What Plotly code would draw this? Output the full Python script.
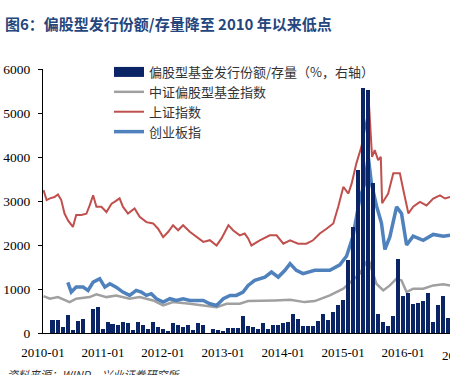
import pandas as pd
import plotly.graph_objects as go

# ---- data ----
bar_months = pd.date_range("2010-01-01", periods=82, freq="MS")
bar_values = [0, 0, 300, 300, 136, 415, 75, 280, 325, 0, 545, 585,
              100, 250, 200, 175, 250, 220, 75, 250, 175, 85, 250, 145,
              85, 50, 220, 175, 145, 175, 70, 220, 190, 0, 85, 60,
              40, 105, 105, 105, 380, 167, 130, 100, 220, 100, 190, 175,
              220, 258, 440, 325, 170, 150, 150, 265, 432, 303, 477, 630,
              740, 1650, 2400, 3700, 5570, 5530, 3400, 440, 250, 150, 380, 1680,
              834, 900, 665, 680, 720, 910, 250, 630, 850, 340]
bar_pct = [v / 1000 for v in bar_values]  # right axis units

sh_dates = ["2010-01-04", "2010-01-23", "2010-02-12", "2010-03-12", "2010-04-02", "2010-04-22",
            "2010-05-12", "2010-06-02", "2010-07-02", "2010-07-22", "2010-08-22", "2010-09-22",
            "2010-10-12", "2010-11-02", "2010-11-22", "2010-12-22", "2011-01-22", "2011-02-22",
            "2011-03-12", "2011-04-12", "2011-05-02", "2011-06-02", "2011-07-12", "2011-08-12",
            "2011-09-22", "2011-11-02", "2011-12-02", "2012-01-02", "2012-02-02", "2012-03-02",
            "2012-04-02", "2012-05-02", "2012-06-12", "2012-07-22", "2012-09-02", "2012-10-12",
            "2012-11-22", "2012-12-22", "2013-02-02", "2013-03-02", "2013-04-12", "2013-05-12",
            "2013-06-02", "2013-06-22", "2013-08-12", "2013-10-12", "2013-11-22", "2014-01-02",
            "2014-02-12", "2014-04-02", "2014-05-22", "2014-07-02", "2014-08-12", "2014-09-22",
            "2014-11-02", "2014-12-02", "2015-01-02", "2015-02-02", "2015-02-22", "2015-03-22",
            "2015-04-22", "2015-05-12", "2015-06-08", "2015-06-26", "2015-07-12", "2015-08-02",
            "2015-08-18", "2015-08-26", "2015-10-02", "2015-11-02", "2015-12-12", "2016-01-02",
            "2016-02-02", "2016-03-02", "2016-04-12", "2016-05-22", "2016-07-02", "2016-08-12",
            "2016-09-12", "2016-10-12"]
sh_values = [3250, 3020, 3060, 3090, 3150, 3020,
             2715, 2560, 2410, 2680, 2680, 2710,
             2900, 3130, 2870, 2870, 2750, 2940,
             2980, 3060, 2870, 2715, 2830, 2640,
             2520, 2490, 2370, 2180, 2300, 2450,
             2335, 2450, 2300, 2180, 2070, 2110,
             1990, 2150, 2450, 2335, 2220, 2260,
             2150, 1990, 2107, 2220, 2220, 2030,
             2107, 2030, 2030, 2107, 2260, 2370,
             2490, 2870, 3320, 3170, 3400, 3850,
             4230, 4610, 5140, 4000, 4157, 3930,
             4005, 2950, 3170, 3630, 3630, 3250,
             2715, 2870, 2980, 2900, 3057, 3130,
             3057, 3094]

cyb_dates = ["2010-06-01", "2010-06-22", "2010-07-22", "2010-09-02", "2010-10-02", "2010-11-02",
             "2010-12-12", "2011-01-12", "2011-02-12", "2011-03-22", "2011-05-02", "2011-06-12",
             "2011-07-22", "2011-08-22", "2011-09-22", "2011-10-22", "2011-11-22", "2012-01-02",
             "2012-02-12", "2012-03-22", "2012-05-02", "2012-06-12", "2012-07-22", "2012-09-02",
             "2012-10-12", "2012-11-22", "2013-01-02", "2013-02-12", "2013-03-22", "2013-05-02",
             "2013-06-02", "2013-07-12", "2013-09-12", "2013-10-22", "2013-12-02", "2014-01-12",
             "2014-02-12", "2014-03-22", "2014-05-02", "2014-06-12", "2014-07-12", "2014-10-12",
             "2014-12-12", "2015-01-22", "2015-03-02", "2015-04-12", "2015-05-12", "2015-06-03",
             "2015-06-22", "2015-07-22", "2015-08-22", "2015-09-12", "2015-10-12", "2015-11-22",
             "2015-12-22", "2016-01-22", "2016-03-02", "2016-05-02", "2016-07-02", "2016-09-02",
             "2016-10-12"]
cyb_values = [1150, 930, 1043, 1043, 968, 1157,
              1234, 1043, 1120, 1043, 929, 854,
              968, 929, 854, 893, 779, 702,
              779, 740, 779, 740, 740, 740,
              665, 626, 779, 854, 854, 929,
              1082, 1196, 1271, 1385, 1271, 1424,
              1576, 1424, 1348, 1385, 1424, 1424,
              1550, 1750, 2200, 3050, 3400, 4000,
              3400, 2900, 2500, 1900, 2182, 2866,
              2715, 2000, 2200, 2107, 2240, 2200,
              2220]

fund_dates = ["2010-01-04", "2010-02-12", "2010-04-02", "2010-06-12", "2010-07-22", "2010-10-12",
              "2010-11-22", "2011-01-22", "2011-03-22", "2011-06-12", "2011-08-12", "2011-11-02",
              "2012-01-02", "2012-03-02", "2012-06-12", "2012-09-22", "2012-11-22", "2013-01-22",
              "2013-04-12", "2013-06-02", "2013-07-12", "2013-11-12", "2014-02-12", "2014-05-12",
              "2014-07-12", "2014-10-12", "2015-01-02", "2015-03-02", "2015-04-12", "2015-06-03",
              "2015-06-22", "2015-07-22", "2015-09-02", "2015-10-12", "2015-11-22", "2015-12-22",
              "2016-01-22", "2016-03-02", "2016-05-02", "2016-07-02", "2016-09-02", "2016-10-12"]
fund_values = [840, 779, 816, 702, 779, 816,
               877, 816, 854, 779, 816, 740,
               626, 702, 665, 626, 588, 665,
               665, 725, 725, 740, 756, 702,
               725, 854, 1007, 1196, 1348, 1690,
               1462, 1120, 968, 1082, 1234, 1196,
               929, 1007, 1007, 1082, 1105, 1082]

y_ticks = [0, 1000, 2000, 3000, 4000, 5000, 6000]
x_ticks = ["2010-01-01", "2011-01-01", "2012-01-01", "2013-01-01", "2014-01-01", "2015-01-01", "2016-01-01"]

names = ["偏股型基金发行份额/存量（%，右轴）", "中证偏股型基金指数", "上证指数", "创业板指"]
NAVY = "#0B2466"
GREY = "#A0A0A0"
RED = "#C0504D"
BLUE = "#4F81BD"

fig = go.Figure()
fig.add_trace(go.Bar(x=bar_months, y=bar_pct, yaxis="y2", marker_color=NAVY,
                     marker_line_width=0, width=27 * 86400000, showlegend=False))
fig.add_trace(go.Scatter(x=[None], y=[None], mode="lines", name=names[0],
                         line=dict(color=NAVY, width=12)))
fig.add_trace(go.Scatter(x=fund_dates, y=fund_values, mode="lines", name=names[1],
                         line=dict(color=GREY, width=2.5)))
fig.add_trace(go.Scatter(x=sh_dates, y=sh_values, mode="lines", name=names[2],
                         line=dict(color=RED, width=2)))
fig.add_trace(go.Scatter(x=cyb_dates, y=cyb_values, mode="lines", name=names[3],
                         line=dict(color=BLUE, width=3.5)))

fig.update_layout(
    width=450, height=375,
    margin=dict(l=43, r=0, t=69, b=42, pad=0),
    paper_bgcolor="white", plot_bgcolor="white",
    title=dict(text="<b>图6：偏股型发行份额/存量降至 2010 年以来低点</b>",
               x=5 / 450, xanchor="left", y=1 - 25 / 375, yanchor="middle",
               font=dict(family="Noto Sans CJK SC", size=15, color="#24467C")),
    xaxis=dict(type="date", range=["2010-01-01", "2016-10-12"], tickvals=x_ticks,
               tickformat="%Y-%m", showgrid=False, showline=True, linecolor="black",
               linewidth=1, ticks="", zeroline=False, ticklabelstandoff=7,
               tickfont=dict(family="Liberation Serif", size=13, color="black")),
    yaxis=dict(range=[0, 6000], tickvals=y_ticks, showgrid=False, showline=True,
               linecolor="black", linewidth=1, ticks="outside", ticklen=4,
               tickcolor="black", zeroline=False, ticklabelstandoff=5,
               tickfont=dict(family="Liberation Serif", size=13.5, color="black")),
    yaxis2=dict(range=[0, 6], overlaying="y", side="right", visible=False),
    bargap=0,
    legend=dict(x=(109 - 43) / 407, xanchor="left", y=(332.5 - 57) / 263.5, yanchor="top",
                bgcolor="rgba(0,0,0,0)", tracegroupgap=0,
                font=dict(family="Noto Sans CJK SC", size=13, color="#333333")),
    showlegend=True,
)

fig.add_annotation(text="2017-01", xref="paper", yref="paper", x=(463 - 43) / 407, y=0,
                   yshift=-13, xanchor="center", yanchor="top", showarrow=False,
                   font=dict(family="Liberation Serif", size=13, color="black"))
fig.add_annotation(text="<i>资料来源：WIND，兴业证券研究所</i>", xref="paper", yref="paper",
                   x=(5 - 43) / 407, y=-(373 - 332.5) / 263.5, xanchor="left", yanchor="middle",
                   showarrow=False, font=dict(family="Noto Sans CJK SC", size=11, color="#333333"))

fig.write_html("out.html", config={"displayModeBar": False},
               post_script="document.body.style.margin='0';document.body.style.overflow='hidden';")
